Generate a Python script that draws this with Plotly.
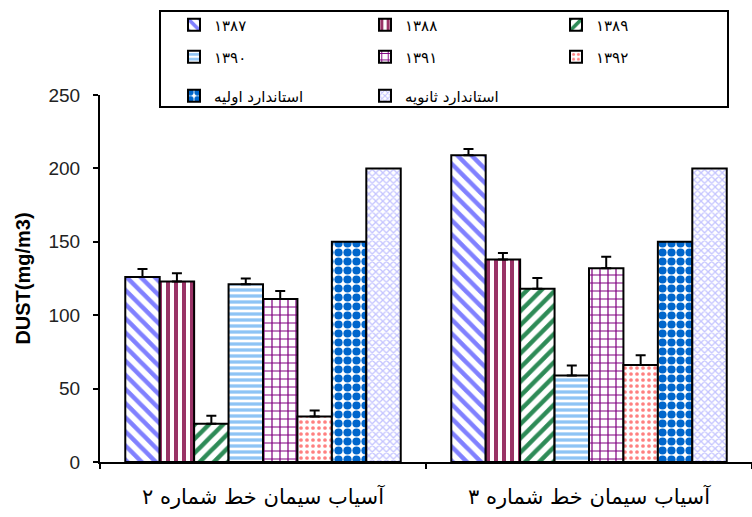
import plotly.graph_objects as go

categories = ["آسیاب سیمان خط شماره ۲", "آسیاب سیمان خط شماره ۳"]
series_names = ["۱۳۸۷", "۱۳۸۸", "۱۳۸۹", "۱۳۹۰", "۱۳۹۱", "۱۳۹۲",
                "استاندارد اولیه", "استاندارد ثانویه"]
v1387 = [126, 209]
v1388 = [123, 138]
v1389 = [26, 118]
v1390 = [121, 59]
v1391 = [111, 132]
v1392 = [31, 66]
v_primary = [150, 150]
v_secondary = [200, 200]
e1387 = [5.5, 4.3]
e1388 = [5.5, 4.3]
e1389 = [5.5, 7.3]
e1390 = [4.0, 6.8]
e1391 = [5.4, 7.9]
e1392 = [4.1, 6.8]
y_ticks = [0, 50, 100, 150, 200, 250]

values = [v1387, v1388, v1389, v1390, v1391, v1392, v_primary, v_secondary]
errors = [e1387, e1388, e1389, e1390, e1391, e1392, None, None]

patterns = [
    dict(shape="\\", fgcolor="#8080FF", bgcolor="white", size=10, solidity=0.45, fgopacity=1),
    dict(shape="|", fgcolor="#993366", bgcolor="white", size=8, solidity=0.5, fgopacity=1),
    dict(shape="/", fgcolor="#2E8B57", bgcolor="white", size=10, solidity=0.45, fgopacity=1),
    dict(shape="-", fgcolor="#8EC4F5", bgcolor="white", size=6, solidity=0.55, fgopacity=1),
    dict(shape="+", fgcolor="#800080", bgcolor="white", size=8, solidity=0.28, fgopacity=1),
    dict(shape=".", fgcolor="#FF8080", bgcolor="white", size=6, solidity=0.3, fgopacity=1),
    dict(shape=".", fgcolor="#0066CC", bgcolor="white", size=9, solidity=0.65, fgopacity=1),
    dict(shape="x", fgcolor="#C4C4FF", bgcolor="white", size=5, solidity=0.45, fgopacity=1),
]
legend_ids = ["legend", "legend", "legend", "legend2", "legend2", "legend2", "legend3", "legend3"]

fig = go.Figure()
for name, vals, err, pat, lg in zip(series_names, values, errors, patterns, legend_ids):
    kw = {}
    if err is not None:
        kw["error_y"] = dict(type="data", array=err, arrayminus=[0] * len(err),
                             symmetric=False, color="black", thickness=2, width=5)
    fig.add_trace(go.Bar(
        x=categories, y=vals, name=name, legend=lg,
        marker=dict(color="white", pattern=pat, line=dict(color="black", width=2)),
        **kw))

W, H = 752, 517
L, R, T, B = 100, 0, 95, 55
pw, ph = W - L - R, H - T - B

def px_x(p):
    return (p - L) / pw

def px_y(p):
    return (H - B - p) / ph

leg_common = dict(orientation="h", xanchor="left", yanchor="middle",
                  entrywidth=146, entrywidthmode="pixels",
                  bgcolor="rgba(0,0,0,0)", borderwidth=0,
                  font=dict(family="DejaVu Sans", size=15, color="black"))

fig.update_layout(
    width=W, height=H,
    margin=dict(l=L, r=R, t=T, b=B, autoexpand=False),
    paper_bgcolor="white", plot_bgcolor="white",
    barmode="group", bargap=0.155, bargroupgap=0,
    legend=dict(x=px_x(174), y=px_y(25), **leg_common),
    legend2=dict(x=px_x(174), y=px_y(57), **leg_common),
    legend3=dict(x=px_x(174), y=px_y(96), **leg_common),
    xaxis=dict(showline=True, linecolor="black", linewidth=2, ticks="outside",
               tickson="boundaries", ticklen=5, tickcolor="black", tickwidth=2,
               ticklabelstandoff=15,
               tickfont=dict(family="DejaVu Sans", size=21, color="black"),
               showgrid=False, zeroline=False),
    yaxis=dict(range=[0, 250], tickvals=y_ticks, showline=True, linecolor="black",
               linewidth=2, ticks="outside", ticklen=5, tickcolor="black", tickwidth=2,
               ticklabelstandoff=9,
               tickfont=dict(family="Liberation Sans", size=19, color="#222"),
               showgrid=False, zeroline=False,
               title=dict(text="<b>DUST(mg/m3)</b>", standoff=12,
                          font=dict(family="Liberation Sans", size=20, color="black"))),
    shapes=[dict(type="rect", xref="paper", yref="paper",
                 x0=px_x(160), x1=px_x(728), y0=px_y(107), y1=px_y(11),
                 line=dict(color="black", width=2), fillcolor="white", layer="below")],
    showlegend=True,
)

fig.write_html("out.html", config={"displayModeBar": False},
               post_script="document.body.style.margin='0';document.body.style.overflow='hidden';")
